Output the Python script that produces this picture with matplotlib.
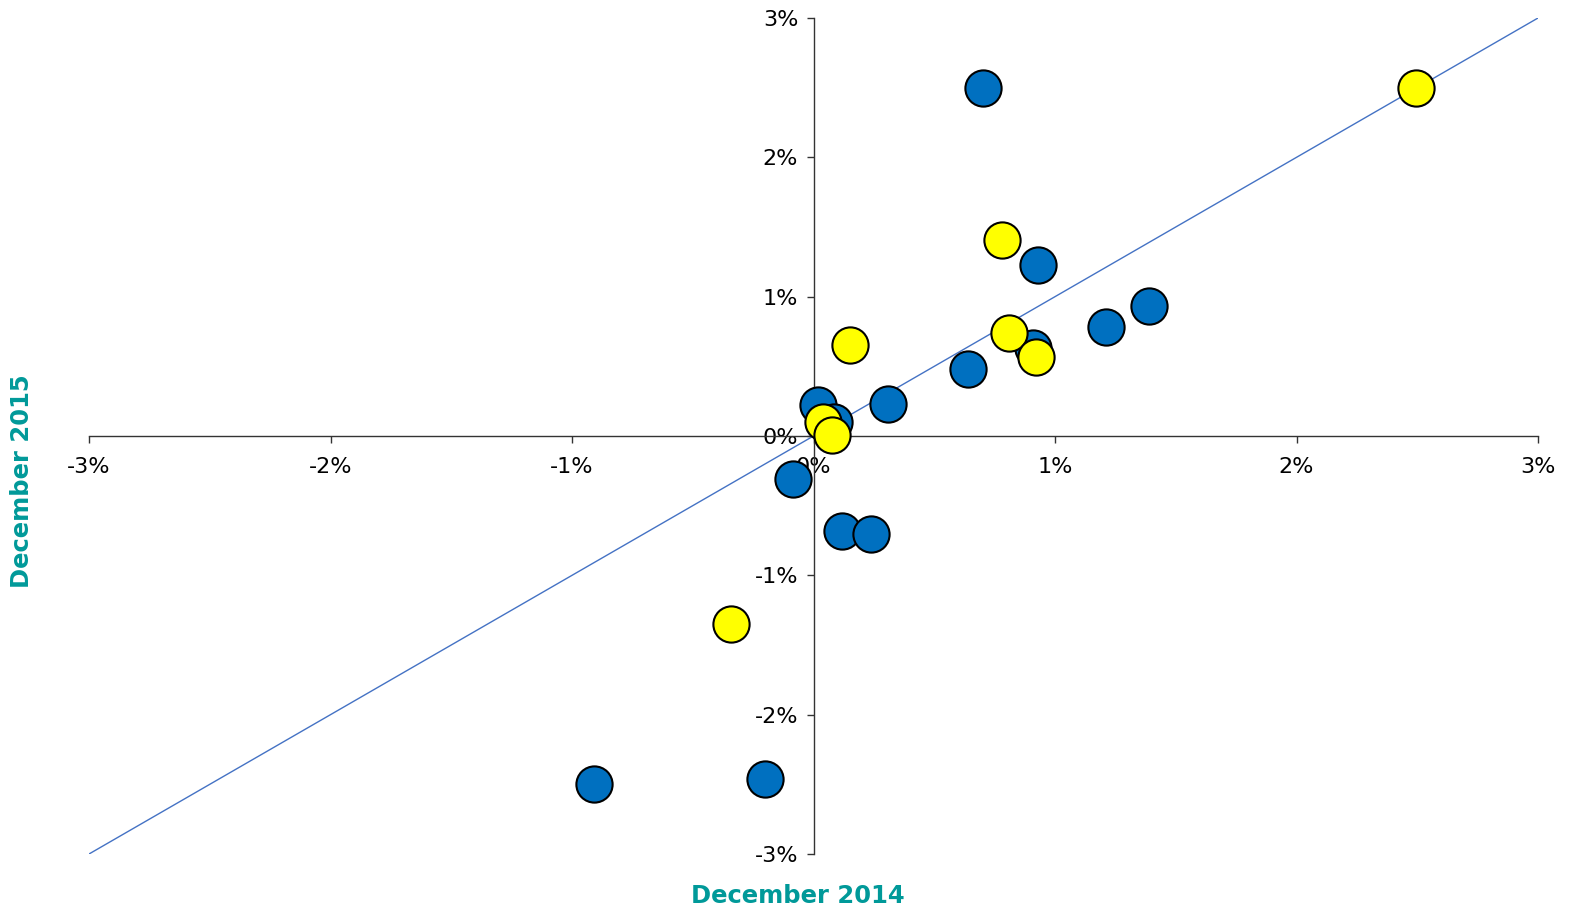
import matplotlib.pyplot as plt
from matplotlib.ticker import FuncFormatter
import numpy as np

# values in percent
blue_x = [0.70, 0.93, 1.39, 1.21, 0.91, 0.64, 0.31, 0.02, 0.085, -0.085, 0.12, 0.24, -0.91, -0.20]
blue_y = [2.50, 1.23, 0.93, 0.78, 0.63, 0.48, 0.23, 0.22, 0.10, -0.31, -0.68, -0.70, -2.50, -2.46]

yellow_x = [2.495, 0.78, 0.15, 0.81, 0.92, 0.04, 0.075, -0.34]
yellow_y = [2.50, 1.41, 0.65, 0.74, 0.57, 0.10, 0.01, -1.35]

ref_line = [-3, 3]
ticks = [-3, -2, -1, 0, 1, 2, 3]

teal = '#009999'

fig = plt.figure(figsize=(15.86, 9.17), dpi=100)
ax = fig.add_axes([89/1586, 1-854/917, (1538-89)/1586, (854-18)/917])

ax.plot(ref_line, ref_line, color='#4472C4', lw=1, zorder=2)
ax.scatter(blue_x, blue_y, s=680, c='#0070C0', edgecolors='black', linewidths=1.5, zorder=3)
ax.scatter(yellow_x, yellow_y, s=680, c='#FFFF00', edgecolors='black', linewidths=1.5, zorder=4)

ax.set_xlim(-3, 3)
ax.set_ylim(-3, 3)
ax.set_xticks(ticks)
ax.set_yticks(ticks)
fmt = FuncFormatter(lambda v, p: f'{int(round(v))}%')
ax.xaxis.set_major_formatter(fmt)
ax.yaxis.set_major_formatter(fmt)

ax.spines['left'].set_position(('data', 0))
ax.spines['bottom'].set_position(('data', 0))
ax.spines['right'].set_visible(False)
ax.spines['top'].set_visible(False)
for s in ['left', 'bottom']:
    ax.spines[s].set_linewidth(1)
    ax.spines[s].set_color('#333333')
ax.tick_params(axis='both', labelsize=16, length=5, width=1, color='#333333', direction='out')
ax.tick_params(axis='x', pad=10)
ax.tick_params(axis='y', pad=6)

fig.text(798/1586, 1-896/917, 'December 2014', color=teal, fontsize=17.5, fontweight='bold',
         ha='center', va='center')
fig.text(22/1586, 1-481/917, 'December 2015', color=teal, fontsize=17.5, fontweight='bold',
         ha='center', va='center', rotation=90)

fig.savefig('out.png', dpi=100)
